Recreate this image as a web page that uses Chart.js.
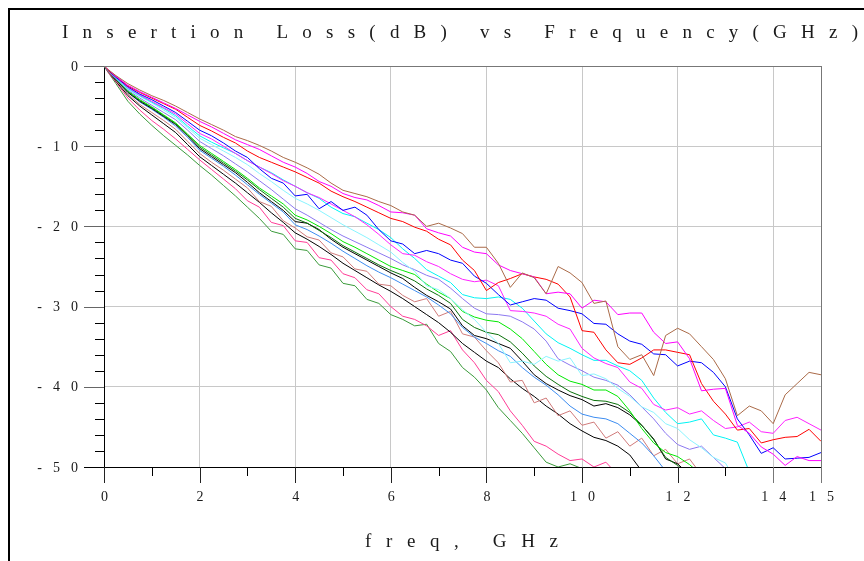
<!DOCTYPE html>
<html>
<head>
<meta charset="utf-8">
<script src="https://cdn.jsdelivr.net/npm/chart.js@4.4.1/dist/chart.umd.min.js"></script>
<style>
  html, body { margin: 0; padding: 0; background: #fff; }
  canvas { display: block; }
</style>
</head>
<body>
<canvas id="lossChart" width="864" height="561"></canvas>
<script>
// frequency points (GHz) shared by every trace
const freq = [0, 0.1, 0.25, 0.5, 0.75, 1, 1.25, 1.5, 1.75, 2, 2.25, 2.5, 2.75, 3, 3.25, 3.5, 3.75, 4,
  4.25, 4.5, 4.75, 5, 5.25, 5.5, 5.75, 6, 6.25, 6.5, 6.75, 7, 7.25, 7.5, 7.75, 8, 8.25, 8.5, 8.75, 9,
  9.25, 9.5, 9.75, 10, 10.25, 10.5, 10.75, 11, 11.25, 11.5, 11.75, 12, 12.25, 12.5, 12.75, 13, 13.25,
  13.5, 13.75, 14, 14.25, 14.5, 14.75, 15];

const titleText = "Insertion Loss(dB) vs Frequency(GHz)";
const xAxisTitle = "freq, GHz";
const xTickLabels = [0, 2, 4, 6, 8, 10, 12, 14, 15];
const xMinorTicks = [1, 3, 5, 7, 9, 11, 13];
const yTickLabels = [0, -10, -20, -30, -40, -50];
const yMinorTicks = [-2, -4, -6, -8, -12, -14, -16, -18, -22, -24, -26, -28, -32, -34, -36, -38, -42, -44, -46, -48];

// insertion loss per trace, dB (null = gone below the plot)
const lossBrown = [0, -0.5, -1.2, -2.2, -3.0, -3.7, -4.3, -5.0, -5.8, -6.6, -7.3, -8.0, -8.8, -9.3, -9.9, -10.6, -11.4, -12.0, -12.7, -13.5, -14.6, -15.5, -15.9, -16.3, -16.9, -17.4,
  -18.2, -18.6, -20.0, -19.6, -20.2, -20.9, -22.6, -22.6, -24.6, -27.6, -25.8, -26.4, -28.4, -25.0, -25.8, -27.0,
  -29.6, -29.3, -35.0, -36.6, -36.0, -38.6, -33.6, -32.7, -33.4, -35.0, -36.6, -39.0, -43.6, -42.4, -43.0, -44.6, -41.0, -39.6, -38.2, -38.5];
const lossMagentaA = [0, -0.5, -1.3, -2.4, -3.2, -3.9, -4.6, -5.3, -6.1, -6.9, -7.6, -8.4, -9.2, -9.8, -10.4, -11.2, -12.0, -12.6, -13.4, -14.4, -15.0, -15.9, -16.4, -16.7, -17.4, -18.2,
  -18.3, -18.6, -20.3, -20.8, -21.2, -22.6, -23.2, -23.4, -24.8, -25.5, -25.9, -26.3, -28.4, -28.2, -28.4, -30.2,
  -29.2, -29.4, -31.0, -30.8, -30.8, -33.2, -34.6, -34.4, -36.5, -40.5, -40.3, -40.2, -44.8, -45.8, -47.5, -48.4, -49.8, -48.7, -49.2, -49.2];
const lossRed = [0, -0.6, -1.3, -2.5, -3.3, -4.0, -4.7, -5.4, -6.4, -7.4, -8.1, -8.9, -9.6, -10.6, -11.4, -12.0, -12.6, -13.2, -13.9, -14.6, -15.6, -16.3, -16.9, -17.6, -18.3, -19.0,
  -19.4, -20.1, -20.6, -21.6, -22.3, -24.2, -25.5, -28.0, -27.0, -26.5, -25.9, -26.3, -26.6, -27.2, -28.8, -33.0,
  -33.2, -35.4, -37.0, -37.2, -36.4, -35.4, -35.4, -35.7, -36.0, -39.6, -41.8, -43.4, -45.4, -45.2, -47.0, -46.6, -46.3, -46.2, -45.3, -46.8];
const lossBlue = [0, -0.6, -1.4, -2.6, -3.5, -4.2, -5.0, -5.8, -6.9, -8.0, -8.7, -9.6, -10.6, -11.4, -12.8, -14.0, -14.6, -16.2, -16.0, -17.8, -16.9, -18.0, -17.6, -18.6, -20.4, -21.8,
  -22.2, -23.4, -23.0, -23.4, -24.2, -24.6, -26.2, -27.1, -28.5, -29.8, -29.4, -29.0, -29.2, -30.2, -30.5, -30.9,
  -32.1, -32.2, -33.4, -34.3, -34.7, -35.9, -36.0, -37.4, -36.8, -37.0, -38.2, -40.0, -44.0, -46.0, -48.3, -47.6, -49.0, -48.9, -48.8, -48.2];
const lossMagentaB = [0, -0.6, -1.4, -2.7, -3.6, -4.4, -5.2, -6.0, -7.2, -8.4, -9.1, -10.0, -10.9, -11.8, -12.6, -13.4, -14.3, -15.0, -15.8, -16.4, -17.2, -18.0, -18.8, -19.8, -21.0, -22.3,
  -23.4, -23.6, -24.4, -25.0, -25.9, -26.6, -26.9, -26.7, -27.4, -30.5, -30.6, -30.8, -31.2, -32.2, -32.8, -35.2,
  -36.4, -37.1, -37.6, -39.4, -40.2, -42.2, -42.9, -42.6, -43.4, -43.0, -44.2, -45.2, -45.0, -44.4, -45.6, -45.8, -44.2, -43.8, -44.6, -45.4];
const lossCyan = [0, -0.6, -1.5, -2.8, -3.7, -4.5, -5.3, -6.2, -7.5, -8.7, -9.5, -10.2, -10.9, -11.8, -12.6, -13.3, -14.2, -15.0, -15.8, -16.5, -17.6, -18.4, -18.8, -19.6, -20.4, -21.4,
  -22.8, -24.0, -25.4, -26.2, -27.0, -28.5, -28.9, -29.0, -28.8, -29.1, -30.2, -31.8, -33.4, -34.5, -35.2, -36.0,
  -36.7, -36.7, -37.4, -38.0, -39.2, -41.4, -43.2, -44.6, -44.4, -44.0, -46.0, -46.4, -46.9, -50.6, null, null, null, null, null, null];
const lossLightCyan = [0, -0.6, -1.5, -2.9, -3.8, -4.6, -5.5, -6.4, -7.7, -9.0, -9.8, -10.6, -11.4, -12.3, -13.4, -14.4, -15.5, -16.5, -17.2, -18.0, -18.9, -19.8, -20.6, -21.4, -22.3, -23.2,
  -24.5, -25.6, -27.4, -27.9, -29.0, -30.4, -31.6, -33.2, -34.6, -37.0, -36.8, -37.2, -36.2, -36.8, -36.4, -38.6,
  -38.4, -39.0, -40.2, -41.2, -42.5, -43.2, -44.6, -45.2, -46.6, -47.6, -48.8, -49.5, -52.0, null, null, null, null, null, null, null];
const lossLavender = [0, -0.7, -1.6, -3.0, -4.0, -4.9, -5.8, -6.7, -8.0, -9.4, -10.3, -11.2, -12.2, -13.2, -14.3, -15.4, -16.6, -17.8, -18.6, -19.5, -20.4, -21.2, -21.9, -22.6, -23.3, -24.0,
  -24.8, -25.4, -26.1, -26.6, -27.7, -29.0, -30.2, -30.9, -31.0, -31.2, -31.9, -32.8, -34.3, -36.5, -37.3, -38.0,
  -38.8, -39.2, -39.8, -41.0, -42.5, -44.0, -45.8, -47.2, -47.8, -47.4, -48.8, -50.2, -52.0, null, null, null, null, null, null, null];
const lossGreen = [0, -0.7, -1.6, -3.1, -4.2, -5.1, -6.1, -7.1, -8.5, -9.9, -10.9, -11.9, -12.9, -14.0, -15.2, -16.2, -17.2, -18.6, -19.2, -20.0, -20.9, -21.9, -22.6, -23.4, -24.2, -25.0,
  -25.5, -26.0, -27.2, -28.2, -29.0, -30.6, -31.3, -31.7, -31.9, -32.8, -34.0, -35.6, -37.2, -38.5, -39.3, -39.7,
  -40.4, -40.4, -41.2, -43.0, -45.2, -47.0, -48.2, -48.7, -49.7, -51.0, null, null, null, null, null, null, null, null, null, null];
const lossDarkGreen = [0, -0.7, -1.7, -3.2, -4.3, -5.2, -6.2, -7.2, -8.6, -10.1, -11.1, -12.1, -13.1, -14.2, -15.4, -16.5, -17.6, -19.0, -19.6, -20.5, -21.4, -22.4, -23.2, -24.0, -24.8, -25.5,
  -26.1, -26.8, -27.8, -28.6, -29.6, -31.6, -32.6, -33.2, -33.5, -34.4, -35.8, -37.4, -38.7, -39.7, -40.6, -41.2,
  -41.7, -41.8, -42.2, -43.2, -44.8, -46.6, -48.8, -49.8, -51.0, null, null, null, null, null, null, null, null, null, null, null];
const lossBlackA = [0, -0.7, -1.7, -3.3, -4.4, -5.3, -6.3, -7.3, -8.7, -10.3, -11.3, -12.3, -13.3, -14.5, -15.8, -16.9, -18.0, -19.4, -19.6, -20.4, -21.6, -22.6, -23.4, -24.2, -25.0, -25.8,
  -26.5, -27.6, -28.6, -29.4, -30.3, -32.4, -33.6, -34.0, -34.6, -35.2, -36.8, -38.5, -39.6, -40.4, -41.1, -41.6,
  -42.4, -42.1, -42.6, -43.5, -44.8, -46.5, -49.0, -49.6, -51.0, null, null, null, null, null, null, null, null, null, null, null];
const lossDodger = [0, -0.7, -1.7, -3.3, -4.5, -5.4, -6.4, -7.5, -8.9, -10.5, -11.5, -12.5, -13.6, -14.8, -16.0, -17.1, -18.2, -19.8, -20.4, -21.2, -22.1, -23.1, -24.0, -24.9, -25.7, -26.4,
  -27.2, -28.0, -28.8, -29.8, -30.9, -32.6, -33.8, -34.6, -35.5, -36.2, -37.6, -38.8, -39.8, -41.0, -42.4, -43.4,
  -43.8, -44.0, -44.6, -45.8, -47.0, -48.6, -50.5, null, null, null, null, null, null, null, null, null, null, null, null, null];
const lossRosy = [0, -0.8, -1.8, -3.5, -4.8, -5.8, -6.8, -7.9, -9.4, -10.9, -12.0, -13.0, -14.1, -15.2, -16.9, -17.5, -19.3, -20.2, -21.3, -21.7, -23.3, -23.8, -25.3, -25.6, -27.2, -27.4,
  -28.6, -29.4, -29.0, -31.2, -30.6, -33.4, -33.8, -35.5, -37.0, -39.4, -39.2, -42.0, -41.4, -43.6, -43.0, -44.8,
  -44.4, -46.4, -45.6, -47.4, -46.4, -48.6, -47.8, -49.6, -49.0, -51.0, null, null, null, null, null, null, null, null, null, null];
const lossBlackB = [0, -0.8, -1.9, -3.7, -5.0, -6.1, -7.2, -8.3, -9.8, -11.3, -12.4, -13.5, -14.6, -15.8, -17.0, -18.3, -19.5, -20.8, -21.6, -22.5, -23.5, -24.6, -25.5, -26.4, -27.3, -28.1,
  -29.0, -30.0, -31.0, -32.0, -33.2, -34.6, -35.7, -36.8, -37.6, -39.0, -40.2, -41.2, -42.4, -43.4, -44.6, -45.5,
  -46.3, -46.7, -47.4, -48.5, -50.5, null, null, null, null, null, null, null, null, null, null, null, null, null, null, null];
const lossPink = [0, -0.9, -2.0, -4.0, -5.5, -6.8, -7.9, -9.1, -10.4, -11.7, -12.9, -14.1, -15.3, -16.8, -17.6, -19.5, -19.9, -21.8, -22.0, -23.9, -24.2, -25.9, -26.4, -27.9, -28.4, -30.0,
  -31.2, -31.6, -32.4, -33.6, -33.0, -35.4, -37.0, -39.2, -40.6, -43.0, -44.8, -46.8, -47.4, -48.4, -49.2, -49.0,
  -50.0, -49.4, -51.0, null, null, null, null, null, null, null, null, null, null, null, null, null, null, null, null, null];
const lossForest = [0, -0.9, -2.2, -4.4, -6.0, -7.4, -8.7, -9.9, -11.1, -12.4, -13.6, -14.9, -16.2, -17.6, -19.0, -20.6, -21.0, -22.8, -23.0, -24.8, -25.2, -27.1, -27.4, -29.1, -29.6, -31.0,
  -31.6, -32.4, -32.2, -34.6, -35.6, -37.6, -38.8, -40.4, -42.6, -44.2, -45.8, -47.6, -49.4, -50.0, -49.6, -50.2,
  -52.0, null, null, null, null, null, null, null, null, null, null, null, null, null, null, null, null, null, null, null];

const seriesValues = [lossBrown, lossMagentaA, lossRed, lossBlue, lossMagentaB, lossCyan, lossLightCyan, lossLavender,
  lossGreen, lossDarkGreen, lossBlackA, lossDodger, lossRosy, lossBlackB, lossPink, lossForest];
const seriesColors = ["#aa6a48", "#ff00ff", "#ff0000", "#0000ff", "#ff22ff", "#00f4f4", "#88f4ff", "#8c78f0",
  "#00e800", "#0a700a", "#000000", "#3c8cf0", "#d07a7a", "#000000", "#ff3c96", "#3a9a3a"];

const SERIF = '"Liberation Serif", "DejaVu Serif", serif';

// widely spaced text, like the plotter output the chart came from.
// spacing: extra px between letters; or give span to stretch the run to that width
function drawSpaced(ctx, text, x, y, size, spacing, align, span) {
  ctx.save();
  ctx.font = size + "px " + SERIF;
  const hasLS = "letterSpacing" in ctx;
  if (hasLS) ctx.letterSpacing = "0px";
  const natural = ctx.measureText(text).width;
  if (span) spacing = (span - natural) / (text.length - 1);
  const visible = natural + spacing * (text.length - 1);
  const left = align === "right" ? x - visible : align === "left" ? x : x - visible / 2;
  ctx.textAlign = "left";
  ctx.textBaseline = "middle";
  ctx.fillStyle = "#1a1a1a";
  if (hasLS) {
    ctx.letterSpacing = spacing + "px";
    ctx.fillText(text, left, y);
  } else {
    let cx = left;
    for (const ch of text) {
      ctx.fillText(ch, cx, y);
      cx += ctx.measureText(ch).width + spacing;
    }
  }
  ctx.restore();
}

function hLine(ctx, x1, x2, y, color) {
  ctx.strokeStyle = color;
  ctx.beginPath();
  ctx.moveTo(x1, Math.round(y) + 0.5);
  ctx.lineTo(x2, Math.round(y) + 0.5);
  ctx.stroke();
}
function vLine(ctx, x, y1, y2, color) {
  ctx.strokeStyle = color;
  ctx.beginPath();
  ctx.moveTo(Math.round(x) + 0.5, y1);
  ctx.lineTo(Math.round(x) + 0.5, y2);
  ctx.stroke();
}

const plotterDecor = {
  id: "plotterDecor",
  afterDraw(chart) {
    const ctx = chart.ctx;
    const a = chart.chartArea;
    const xs = chart.scales.x;
    const ys = chart.scales.y;
    ctx.save();
    ctx.lineWidth = 1;

    // top and right frame of the plot
    hLine(ctx, a.left, a.right + 1, a.top, "#777");
    vLine(ctx, xs.getPixelForValue(15), a.top, a.bottom + 16, "#777");

    // y ticks
    yTickLabels.forEach(v => {
      const py = ys.getPixelForValue(v);
      hLine(ctx, a.left - 20, a.left, py, v === -50 ? "#000" : "#666");
      drawSpaced(ctx, String(v), 78, py + 1, 14, 11, "right");
    });
    yMinorTicks.forEach(v => hLine(ctx, a.left - 9, a.left, ys.getPixelForValue(v), "#000"));

    // x ticks
    xTickLabels.forEach(v => {
      const px = xs.getPixelForValue(v);
      vLine(ctx, px, a.bottom, a.bottom + 16, v >= 14 ? "#777" : "#222");
      drawSpaced(ctx, String(v), px + 0.5, a.bottom + 30, 14, 11, "center");
    });
    xMinorTicks.forEach(v => vLine(ctx, xs.getPixelForValue(v), a.bottom, a.bottom + 9, "#000"));

    // titles
    drawSpaced(ctx, titleText, 62, 33, 19, 0, "left", 796);
    drawSpaced(ctx, xAxisTitle, 365, 542, 19, 0, "left", 193);

    // outer page frame
    ctx.fillStyle = "#000";
    ctx.fillRect(8, 8, 864 - 8, 2);
    ctx.fillRect(8, 8, 2, 561 - 8);
    ctx.restore();
  }
};

const datasets = seriesValues.map((vals, i) => ({
  label: "trace " + (i + 1),
  data: freq.map((f, k) => ({ x: f, y: vals[k] })),
  borderColor: seriesColors[i],
  borderWidth: 1,
  pointRadius: 0,
  tension: 0,
  fill: false,
}));

new Chart(document.getElementById("lossChart"), {
  type: "line",
  data: { datasets: datasets },
  options: {
    responsive: false,
    animation: false,
    devicePixelRatio: 1,
    layout: { padding: { left: 104, right: 43, top: 66, bottom: 94 } },
    plugins: {
      legend: { display: false },
      title: { display: false },
      tooltip: { enabled: false },
    },
    scales: {
      x: {
        type: "linear",
        min: 0,
        max: 15,
        ticks: { display: false, stepSize: 2 },
        grid: { color: "#c8c8c8", drawTicks: false },
        border: { color: "#000" },
      },
      y: {
        min: -50,
        max: 0,
        ticks: { display: false, stepSize: 10 },
        grid: { color: "#c8c8c8", drawTicks: false },
        border: { color: "#000" },
      },
    },
  },
  plugins: [plotterDecor],
});
</script>
</body>
</html>
